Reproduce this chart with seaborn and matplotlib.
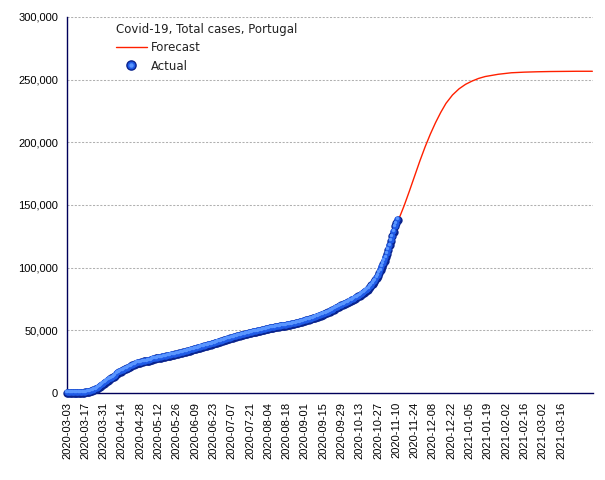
import pandas as pd
import matplotlib
matplotlib.use('Agg')
import matplotlib.pyplot as plt
import matplotlib.transforms as mtransforms
from matplotlib.lines import Line2D
from matplotlib.legend_handler import HandlerTuple
from matplotlib.ticker import FuncFormatter
import seaborn as sns

# Data
start_date = '2020-03-03'

# daily cumulative cases, 2020-03-03 onwards
actual_cases = [
    4, 6, 9, 13, 21, 30, 39, 41, 59, 78, 112, 169, 245, 331,
    448, 642, 785, 1020, 1280, 1600, 2060, 2362, 2995, 3544, 4268, 5170, 5962, 6408,
    7443, 8251, 9034, 9886, 10524, 11278, 11730, 12442, 13141, 13956, 15472, 15987, 16585, 16934,
    17448, 18091, 18841, 19022, 19685, 20206, 20863, 21379, 21982, 22353, 22797, 23392, 23864, 24027,
    24322, 24505, 25045, 25190, 25282, 25351, 25524, 25702, 26182, 26715, 27268, 27406, 27581, 27679,
    27913, 28132, 28319, 28583, 28810, 29036, 29209, 29432, 29660, 29912, 30200, 30471, 30623, 30788,
    31007, 31292, 31596, 31946, 32203, 32500, 32750, 33000, 33300, 33600, 33900, 34200, 34500, 34800,
    35100, 35400, 35700, 36000, 36300, 36600, 36900, 37200, 37500, 37800, 38100, 38400, 38650, 38900,
    39200, 39550, 39900, 40250, 40600, 40900, 41250, 41600, 41950, 42300, 42650, 43000, 43300, 43600,
    43900, 44200, 44500, 44800, 45100, 45400, 45700, 46000, 46300, 46550, 46800, 47050, 47300, 47550,
    47800, 48050, 48300, 48550, 48800, 49050, 49300, 49550, 49800, 50050, 50300, 50550, 50800, 51050,
    51300, 51550, 51750, 51950, 52150, 52350, 52550, 52750, 52950, 53150, 53350, 53500, 53650, 53800,
    54000, 54200, 54400, 54600, 54850, 55100, 55350, 55600, 55850, 56100, 56400, 56700, 57000, 57300,
    57600, 57900, 58200, 58500, 58800, 59150, 59500, 59850, 60200, 60600, 61000, 61400, 61800, 62200,
    62600, 63000, 63450, 63900, 64350, 64800, 65400, 66000, 66600, 67200, 67800, 68400, 69000, 69500,
    69950, 70400, 70850, 71300, 71800, 72300, 72800, 73400, 74000, 74600, 75200, 75800, 76400, 77000,
    77700, 78400, 79100, 79900, 80700, 81600, 82500, 83500, 84600, 85800, 87100, 88500, 90000, 91700,
    93600, 95700, 98000, 100400, 102900, 105500, 108300, 111300, 114400, 117700, 121200, 124900, 128800, 132900,
    135400, 137900,
]

# forecast curve, days after start date
forecast_days = [0, 7, 14, 21, 28, 35, 42, 49, 56, 63, 70, 77, 84, 91, 98, 105, 112, 119, 126,
                 133, 140, 147, 154, 161, 168, 175, 182, 189, 196, 203, 210, 217, 224, 231, 238,
                 245, 250, 254, 258, 262, 266, 270, 274, 278, 282, 286, 290, 295, 300, 305, 310,
                 315, 320, 330, 340, 350, 360, 370, 380, 390, 402]
forecast_cases = [0, 40, 500, 2100, 6500, 11300, 17000, 20900, 24300, 26000, 27900, 29400, 30800,
                  32600, 35300, 37300, 39700, 41600, 43900, 45700, 47800, 49550, 51300, 52750, 54000,
                  55600, 57600, 59850, 62600, 66000, 69950, 73400, 77700, 83500, 93600,
                  111300, 128800, 139000, 149500, 161100, 173100, 185100, 196300, 206500, 215700,
                  223900, 231100, 237800, 242700, 246300, 248900, 251000, 252500, 254300, 255500,
                  256000, 256300, 256500, 256600, 256700, 256700]

tick_labels = ['2020-03-03', '2020-03-17', '2020-03-31', '2020-04-14', '2020-04-28', '2020-05-12',
               '2020-05-26', '2020-06-09', '2020-06-23', '2020-07-07', '2020-07-21', '2020-08-04',
               '2020-08-18', '2020-09-01', '2020-09-15', '2020-09-29', '2020-10-13', '2020-10-27',
               '2020-11-10', '2020-11-24', '2020-12-08', '2020-12-22', '2021-01-05', '2021-01-19',
               '2021-02-02', '2021-02-16', '2021-03-02', '2021-03-16']

start = pd.Timestamp(start_date)
actual = pd.DataFrame({
    'date': pd.date_range(start, periods=len(actual_cases), freq='D'),
    'cases': actual_cases,
})
forecast = pd.DataFrame({
    'date': start + pd.to_timedelta(forecast_days, unit='D'),
    'cases': forecast_cases,
})

sns.set_style('white')
plt.rcParams['font.family'] = ['DejaVu Sans']

navy = '#00005a'
red = '#ff2000'
dark_ball = '#0a238c'
mid_ball = '#1f5ae6'
light_ball = '#5a96ff'

fig = plt.figure(figsize=(6.05, 4.8), dpi=100)
ax = fig.add_axes([67 / 605, 1 - 393 / 480, 526 / 605, 376 / 480])

sns.lineplot(data=forecast, x='date', y='cases', color=red, linewidth=1.0, ax=ax, zorder=2)

# actual points drawn as shaded balls: dark base, mid-blue body and a small highlight
layers = [(dark_ball, 36, 0.0, 0.0), (mid_ball, 20, -0.35, 0.55), (light_ball, 6, -0.8, 1.2)]
for i, (col, size, dx, dy) in enumerate(layers):
    sns.scatterplot(data=actual, x='date', y='cases', color=col, s=size, linewidth=0,
                    ax=ax, zorder=3 + i, clip_on=False)
    if dx or dy:
        shift = mtransforms.offset_copy(ax.transData, fig=fig, x=dx, y=dy, units='points')
        ax.collections[-1].set_offset_transform(shift)

ax.set_xlim(start, start + pd.Timedelta(days=402.5))
ax.set_ylim(0, 300000)
ax.set_yticks(range(0, 300001, 50000))
ax.yaxis.set_major_formatter(FuncFormatter(lambda v, p: f'{v:,.0f}'))
ax.set_xticks(pd.to_datetime(tick_labels))
ax.set_xticklabels(tick_labels, rotation=90)
ax.set_xlabel('')
ax.set_ylabel('')

ax.yaxis.grid(True, color='#b0b0b0', linestyle=(0, (2, 1.5)), linewidth=0.75)
ax.xaxis.grid(False)
ax.set_axisbelow(True)

for side in ['top', 'right']:
    ax.spines[side].set_visible(False)
for side in ['left', 'bottom']:
    ax.spines[side].set_color(navy)
    ax.spines[side].set_linewidth(1.0)

ax.tick_params(axis='both', direction='out', length=4, width=1, color=navy,
               labelsize=8, labelcolor='black', pad=2.5)
for lbl in ax.get_xticklabels() + ax.get_yticklabels():
    lbl.set_fontfamily('Liberation Sans')

line_handle = Line2D([], [], color=red, linewidth=1.0)
ball_handles = tuple(
    Line2D([], [], linestyle='none', marker='o', markersize=ms, color=col)
    for col, ms in [(dark_ball, 6.6), (mid_ball, 4.6), (light_ball, 2.2)]
)
leg = ax.legend([line_handle, ball_handles], ['Forecast', 'Actual'],
                handler_map={tuple: HandlerTuple(ndivide=1)},
                title='Covid-19, Total cases, Portugal', title_fontsize=8.5, fontsize=8.5,
                loc='upper left', bbox_to_anchor=(49 / 526, 1 - 6 / 376), frameon=False,
                alignment='left', handlelength=2.6, handletextpad=0.35,
                borderpad=0, borderaxespad=0, labelspacing=0.45)
for t in leg.get_texts():
    t.set_color('#222222')
leg.get_title().set_color('#222222')

plt.savefig('out.png', dpi=100)
